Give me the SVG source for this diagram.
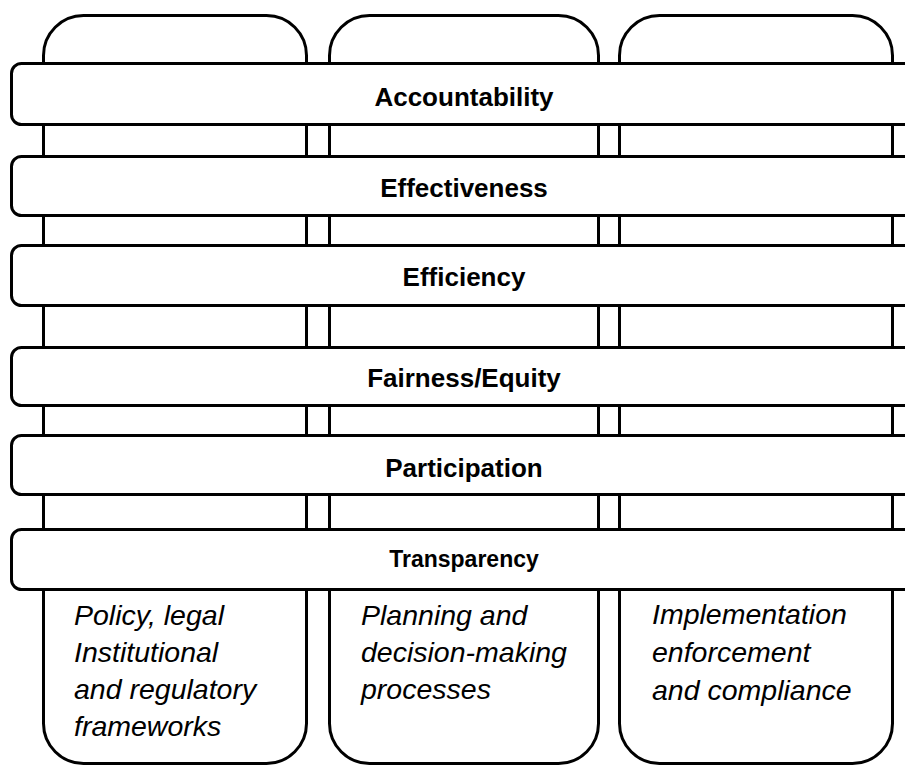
<svg xmlns="http://www.w3.org/2000/svg" width="905" height="765" viewBox="0 0 905 765">
<style>
.box{fill:#fff;stroke:#000;stroke-width:3}
.bar{fill:#fff;stroke:#000;stroke-width:3}
.bt{font-family:"Liberation Sans",Arial,sans-serif;font-weight:bold;font-size:26px;text-anchor:middle;fill:#000}
.it{font-family:"Liberation Sans",Arial,sans-serif;font-style:italic;font-size:28.5px;fill:#000}
</style>
<rect width="905" height="765" fill="#fff"/>
<g id="col-policy"><rect class="box" x="43.5" y="15.5" width="263" height="748" rx="40"/></g>
<g id="col-planning"><rect class="box" x="329.5" y="15.5" width="269" height="748" rx="40"/></g>
<g id="col-implementation"><rect class="box" x="619.5" y="15.5" width="273" height="748" rx="40"/></g>
<g id="bar-accountability"><rect class="bar" x="11.5" y="63.5" width="910" height="61" rx="10"/><text class="bt" x="464" y="106">Accountability</text></g>
<g id="bar-effectiveness"><rect class="bar" x="11.5" y="156.5" width="910" height="59" rx="10"/><text class="bt" x="464" y="197">Effectiveness</text></g>
<g id="bar-efficiency"><rect class="bar" x="11.5" y="245.5" width="910" height="60" rx="10"/><text class="bt" x="464" y="286">Efficiency</text></g>
<g id="bar-fairness"><rect class="bar" x="11.5" y="347.5" width="910" height="58" rx="10"/><text class="bt" x="464" y="387">Fairness/Equity</text></g>
<g id="bar-participation"><rect class="bar" x="11.5" y="435.5" width="910" height="59" rx="10"/><text class="bt" x="464" y="477">Participation</text></g>
<g id="bar-transparency"><rect class="bar" x="11.5" y="529.5" width="910" height="60" rx="10"/><text class="bt" x="464" y="567" style="font-size:23px">Transparency</text></g>
<g id="label-policy"><text class="it" x="74" y="625">Policy, legal</text><text class="it" x="74" y="662">Institutional</text><text class="it" x="74" y="699">and regulatory</text><text class="it" x="74" y="736">frameworks</text></g>
<g id="label-planning"><text class="it" x="361" y="625">Planning and</text><text class="it" x="361" y="662">decision-making</text><text class="it" x="361" y="699">processes</text></g>
<g id="label-implementation"><text class="it" x="652" y="624">Implementation</text><text class="it" x="652" y="662">enforcement</text><text class="it" x="652" y="700">and compliance</text></g>
<g id="connectors"/>
</svg>
